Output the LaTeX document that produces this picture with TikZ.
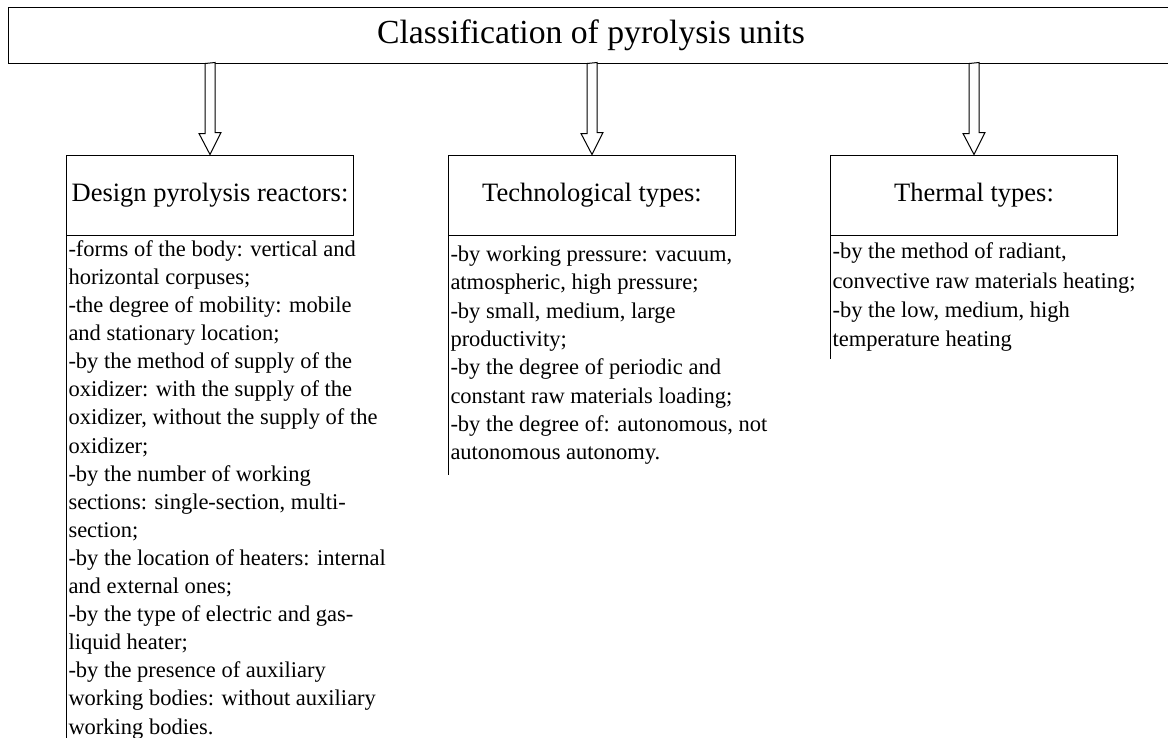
\documentclass[tikz,border=0pt]{standalone}
\usepackage{fontspec}
\setmainfont{Liberation Serif}
\usetikzlibrary{positioning}
\tikzset{
    headbox/.style={draw, minimum width=287pt, minimum height=80pt, font=\fontsize{26.5}{30}\selectfont},
    listtext/.style={anchor=north west, align=left, inner xsep=2pt, inner ysep=3pt},
    hollow/.style={draw, fill=white}
}
\begin{document}
\begin{tikzpicture}[x=1pt,y=-1pt,line width=1pt]
    \useasboundingbox (0,0) rectangle (1168,737);
    \node[draw, minimum width=1166pt, minimum height=56pt, font=\fontsize{33.7}{38}\selectfont] (top) at (591,35) {Classification of pyrolysis units};
    \node[headbox] (design) at (210,195) {Design pyrolysis reactors:};
    \node[headbox] (tech) at (592,195) {Technological types:};
    \node[headbox] (thermal) at (974,195) {Thermal types:};
    \foreach \b in {design,tech,thermal} % hollow arrows
    \draw[hollow] (top.south -| \b.north) ++(-5,0) -- ++(0,70) -- ++(-6,0) -- (\b.north) -- ++(11,-22) -- ++(-6,0) -- ++(0,-70) -- cycle;
    \node[listtext, inner ysep=4.5pt, font=\fontsize{22.5}{28.1}\selectfont] (designlist) at (design.south west) {-forms of the body: vertical and\\horizontal corpuses;\\-the degree of mobility: mobile\\and stationary location;\\-by the method of supply of the\\oxidizer: with the supply of the\\oxidizer, without the supply of the\\oxidizer;\\-by the number of working\\sections: single-section, multi-\\section;\\-by the location of heaters: internal\\and external ones;\\-by the type of electric and gas-\\liquid heater;\\-by the presence of auxiliary\\working bodies: without auxiliary\\working bodies.};
    \node[listtext, inner ysep=10pt, font=\fontsize{22.5}{28.3}\selectfont] (techlist) at (tech.south west) {-by working pressure: vacuum,\\atmospheric, high pressure;\\-by small, medium, large\\productivity;\\-by the degree of periodic and\\constant raw materials loading;\\-by the degree of: autonomous, not\\autonomous autonomy.};
    \node[listtext, inner ysep=7pt, font=\fontsize{22.5}{29.3}\selectfont] (thermallist) at (thermal.south west) {-by the method of radiant,\\convective raw materials heating;\\-by the low, medium, high\\temperature heating};
    \draw (design.south west) -- (designlist.south west);
    \draw (tech.south west) -- (techlist.south west);
    \draw (thermal.south west) -- (thermallist.south west);
\end{tikzpicture}
\end{document}
